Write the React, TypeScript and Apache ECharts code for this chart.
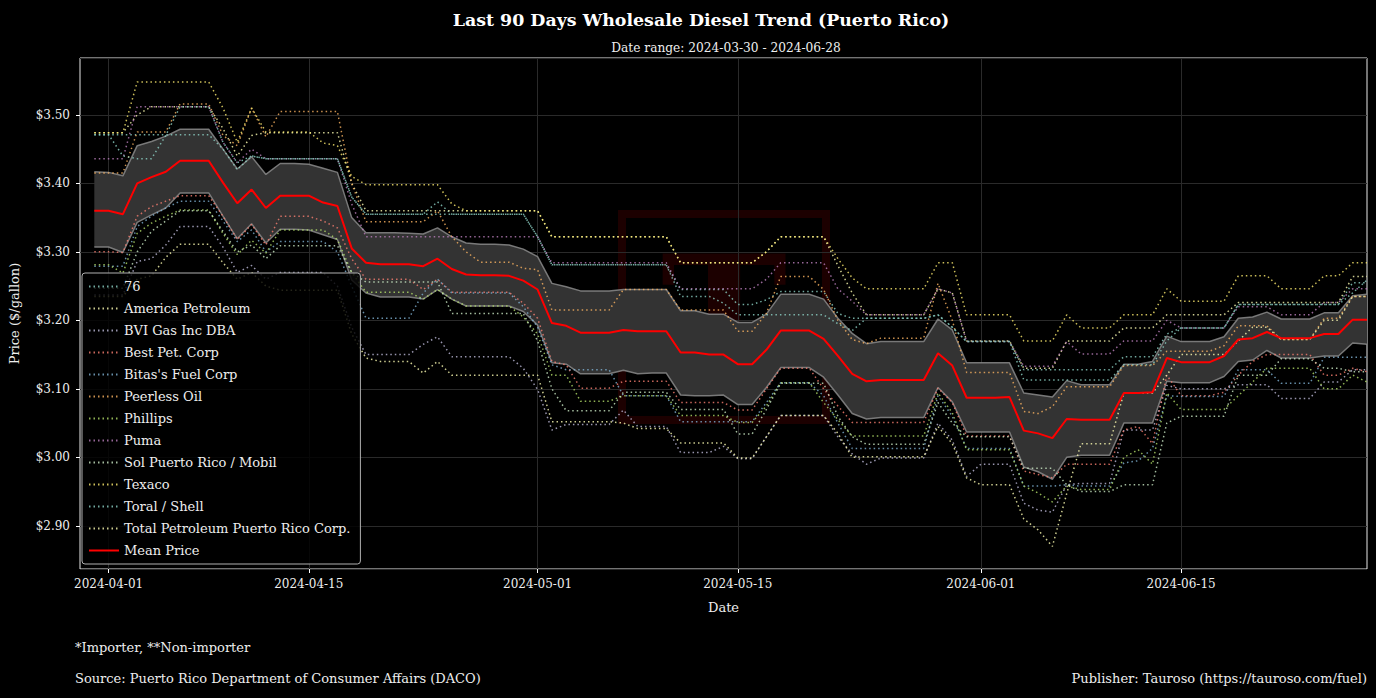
import React, { useEffect, useRef } from 'react';
import * as echarts from 'echarts';

const FONT = "'DejaVu Serif', serif";

// Axis runs from 2024-03-30 to 2024-06-28; data from 2024-03-31 (90 daily points)
const AXIS_START = '2024-03-30';
const AXIS_DAYS = 91;
const tickDates = ['2024-04-01', '2024-04-15', '2024-05-01', '2024-05-15', '2024-06-01', '2024-06-15'];

const names = [
  '76', 'America Petroleum', 'BVI Gas Inc DBA', 'Best Pet. Corp', "Bitas's Fuel Corp", 'Peerless Oil',
  'Phillips', 'Puma', 'Sol Puerto Rico / Mobil', 'Texaco', 'Toral / Shell', 'Total Petroleum Puerto Rico Corp.',
];
const colors = [
  '#8dd3c7', '#ffffb3', '#bebada', '#fb8072', '#80b1d3', '#fdb462',
  '#b3de69', '#bc80bd', '#ccebc5', '#ffed6f', '#8dd3c7', '#ffffb3',
];

const s76 = [3.471,3.471,3.471,3.471,3.471,3.471,3.471,3.471,3.471,3.45,3.42,3.44,3.436,3.436,3.436,3.436,3.436,3.436,3.38,3.355,3.355,3.355,3.355,3.355,3.373,3.355,3.355,3.355,3.355,3.355,3.355,3.322,3.281,3.281,3.281,3.281,3.281,3.281,3.281,3.281,3.281,3.245,3.245,3.245,3.245,3.223,3.223,3.23,3.242,3.242,3.242,3.242,3.21,3.203,3.203,3.203,3.203,3.203,3.203,3.208,3.19,3.169,3.169,3.169,3.169,3.128,3.128,3.128,3.128,3.128,3.128,3.128,3.147,3.147,3.147,3.18,3.189,3.189,3.189,3.189,3.223,3.223,3.223,3.223,3.223,3.223,3.223,3.223,3.24,3.259];
const sAmerica = [3.474,3.474,3.474,3.5,3.512,3.512,3.512,3.512,3.512,3.48,3.44,3.47,3.474,3.474,3.474,3.474,3.474,3.474,3.4,3.36,3.36,3.36,3.36,3.36,3.36,3.36,3.36,3.36,3.36,3.36,3.36,3.36,3.322,3.322,3.322,3.322,3.322,3.322,3.322,3.322,3.322,3.284,3.284,3.284,3.284,3.284,3.284,3.3,3.322,3.322,3.322,3.322,3.28,3.24,3.208,3.208,3.208,3.208,3.208,3.246,3.24,3.17,3.17,3.17,3.17,3.13,3.13,3.13,3.17,3.17,3.17,3.17,3.189,3.189,3.189,3.208,3.208,3.208,3.208,3.208,3.226,3.226,3.226,3.226,3.226,3.226,3.226,3.226,3.264,3.264];
const sBVI = [3.237,3.237,3.237,3.286,3.29,3.31,3.337,3.337,3.337,3.307,3.27,3.28,3.26,3.27,3.27,3.27,3.27,3.25,3.19,3.15,3.15,3.15,3.15,3.165,3.176,3.147,3.147,3.147,3.147,3.147,3.13,3.099,3.04,3.048,3.048,3.048,3.048,3.069,3.045,3.045,3.045,3.007,3.007,3.007,3.016,2.998,2.998,3.03,3.061,3.061,3.061,3.061,3.03,3.005,2.99,2.999,2.999,2.999,2.999,3.05,3.025,2.972,2.99,2.99,2.99,2.933,2.923,2.92,2.96,2.962,2.962,2.962,3.04,3.04,3.04,3.105,3.1,3.1,3.1,3.1,3.106,3.106,3.106,3.086,3.086,3.086,3.11,3.11,3.128,3.128];
const sBest = [3.3,3.3,3.299,3.352,3.366,3.374,3.382,3.382,3.382,3.352,3.318,3.34,3.31,3.352,3.352,3.352,3.345,3.335,3.29,3.26,3.26,3.26,3.26,3.245,3.26,3.241,3.241,3.241,3.241,3.241,3.225,3.203,3.14,3.135,3.101,3.101,3.101,3.111,3.111,3.111,3.111,3.08,3.08,3.08,3.08,3.069,3.069,3.1,3.13,3.13,3.13,3.1,3.075,3.051,3.051,3.051,3.051,3.051,3.051,3.101,3.08,3.031,3.031,3.031,3.031,2.98,2.975,2.97,2.99,2.99,2.99,2.99,3.04,3.045,3.02,3.12,3.09,3.09,3.09,3.095,3.12,3.14,3.15,3.15,3.15,3.15,3.12,3.12,3.13,3.125];
const sBitas = [3.279,3.279,3.279,3.337,3.352,3.364,3.374,3.374,3.374,3.345,3.315,3.332,3.3,3.315,3.315,3.315,3.315,3.3,3.25,3.203,3.203,3.203,3.203,3.24,3.26,3.24,3.24,3.24,3.24,3.24,3.22,3.19,3.135,3.128,3.128,3.128,3.128,3.09,3.09,3.09,3.09,3.052,3.052,3.052,3.052,3.052,3.052,3.08,3.109,3.109,3.109,3.09,3.05,3.013,3.013,3.013,3.013,3.013,3.013,3.09,3.06,3.013,3.013,3.013,3.013,2.958,2.958,2.958,2.96,2.958,2.958,2.958,2.992,2.995,3.013,3.09,3.089,3.089,3.089,3.089,3.128,3.128,3.128,3.108,3.108,3.108,3.146,3.146,3.146,3.146];
const sPeerless = [3.415,3.415,3.415,3.475,3.475,3.475,3.516,3.516,3.516,3.47,3.455,3.51,3.468,3.505,3.505,3.505,3.505,3.505,3.4,3.344,3.344,3.344,3.344,3.344,3.36,3.322,3.3,3.285,3.285,3.285,3.276,3.274,3.215,3.215,3.215,3.215,3.215,3.245,3.245,3.245,3.245,3.215,3.215,3.215,3.215,3.184,3.184,3.21,3.264,3.264,3.264,3.245,3.2,3.172,3.166,3.174,3.174,3.174,3.174,3.254,3.2,3.124,3.124,3.124,3.124,3.067,3.064,3.074,3.103,3.103,3.103,3.103,3.134,3.134,3.134,3.155,3.155,3.155,3.155,3.163,3.192,3.192,3.192,3.172,3.172,3.172,3.203,3.203,3.235,3.235];
const sPhillips = [3.281,3.281,3.269,3.327,3.342,3.352,3.361,3.361,3.361,3.327,3.296,3.317,3.298,3.332,3.332,3.332,3.332,3.318,3.27,3.241,3.241,3.241,3.241,3.231,3.245,3.231,3.221,3.221,3.221,3.221,3.205,3.18,3.12,3.12,3.082,3.082,3.082,3.09,3.09,3.09,3.09,3.061,3.061,3.061,3.061,3.051,3.051,3.075,3.109,3.109,3.109,3.08,3.055,3.031,3.031,3.031,3.031,3.031,3.031,3.094,3.065,3.011,3.011,3.011,3.011,2.958,2.948,2.935,2.958,2.953,2.953,2.953,3.0,3.011,2.99,3.094,3.07,3.07,3.07,3.07,3.09,3.11,3.13,3.13,3.13,3.13,3.1,3.1,3.12,3.11];
const sPuma = [3.436,3.436,3.436,3.512,3.512,3.512,3.512,3.512,3.512,3.46,3.43,3.45,3.436,3.436,3.436,3.436,3.436,3.436,3.37,3.322,3.322,3.322,3.322,3.322,3.322,3.322,3.322,3.322,3.322,3.322,3.322,3.322,3.284,3.284,3.284,3.284,3.284,3.284,3.284,3.284,3.284,3.246,3.246,3.246,3.246,3.246,3.246,3.26,3.284,3.284,3.284,3.284,3.246,3.228,3.208,3.208,3.208,3.208,3.208,3.246,3.24,3.169,3.169,3.169,3.169,3.133,3.133,3.133,3.169,3.151,3.151,3.151,3.17,3.17,3.17,3.2,3.189,3.189,3.189,3.189,3.22,3.22,3.22,3.208,3.208,3.208,3.226,3.226,3.246,3.246];
const sSol = [3.247,3.247,3.247,3.3,3.33,3.345,3.36,3.36,3.36,3.33,3.3,3.31,3.29,3.309,3.309,3.309,3.309,3.309,3.27,3.256,3.256,3.256,3.256,3.256,3.256,3.21,3.21,3.21,3.21,3.21,3.21,3.17,3.1,3.068,3.068,3.068,3.068,3.095,3.095,3.095,3.095,3.07,3.07,3.07,3.07,3.034,3.034,3.07,3.108,3.108,3.108,3.108,3.06,3.03,3.019,3.019,3.019,3.019,3.019,3.08,3.05,3.03,3.03,3.03,3.03,2.984,2.984,2.984,2.96,2.95,2.95,2.95,2.96,2.96,2.96,3.05,3.06,3.06,3.06,3.06,3.12,3.12,3.12,3.144,3.144,3.144,3.13,3.13,3.125,3.125];
const sTexaco = [3.474,3.474,3.474,3.548,3.548,3.548,3.548,3.548,3.548,3.51,3.46,3.51,3.475,3.475,3.475,3.475,3.459,3.455,3.41,3.398,3.398,3.398,3.398,3.398,3.398,3.37,3.36,3.36,3.36,3.36,3.36,3.36,3.322,3.322,3.322,3.322,3.322,3.322,3.322,3.322,3.322,3.284,3.284,3.284,3.284,3.284,3.284,3.3,3.322,3.322,3.322,3.322,3.29,3.262,3.246,3.246,3.246,3.246,3.246,3.284,3.284,3.208,3.208,3.208,3.208,3.17,3.17,3.17,3.208,3.189,3.189,3.189,3.208,3.208,3.208,3.246,3.228,3.228,3.228,3.228,3.265,3.265,3.265,3.246,3.246,3.246,3.265,3.265,3.284,3.284];
const sToral = [3.471,3.471,3.44,3.436,3.436,3.47,3.512,3.512,3.512,3.46,3.43,3.44,3.436,3.436,3.436,3.436,3.436,3.436,3.38,3.355,3.355,3.355,3.355,3.355,3.355,3.355,3.355,3.355,3.355,3.355,3.355,3.322,3.281,3.281,3.281,3.281,3.281,3.281,3.281,3.281,3.281,3.235,3.235,3.235,3.225,3.208,3.208,3.208,3.208,3.208,3.208,3.208,3.195,3.185,3.203,3.203,3.203,3.203,3.203,3.208,3.19,3.169,3.169,3.169,3.169,3.113,3.113,3.113,3.113,3.113,3.113,3.113,3.135,3.135,3.135,3.17,3.189,3.189,3.189,3.189,3.223,3.223,3.223,3.223,3.223,3.223,3.223,3.223,3.255,3.255];
const sTotal = [3.235,3.235,3.235,3.26,3.265,3.292,3.311,3.311,3.311,3.284,3.26,3.27,3.25,3.244,3.244,3.244,3.244,3.244,3.18,3.145,3.14,3.14,3.14,3.123,3.14,3.12,3.12,3.12,3.12,3.12,3.12,3.12,3.052,3.052,3.052,3.052,3.052,3.05,3.042,3.042,3.042,3.021,3.021,3.021,3.021,2.999,2.999,3.03,3.061,3.061,3.061,3.061,3.035,3.0,3.001,3.001,3.001,3.001,3.001,3.045,3.02,2.97,2.96,2.96,2.96,2.91,2.894,2.87,2.947,3.02,3.02,3.02,3.094,3.094,3.094,3.12,3.15,3.15,3.15,3.15,3.17,3.19,3.19,3.172,3.172,3.172,3.2,3.2,3.235,3.235];

const meanPrice = [3.36,3.36,3.355,3.4,3.409,3.417,3.433,3.433,3.433,3.401,3.371,3.391,3.364,3.382,3.382,3.382,3.372,3.367,3.305,3.284,3.282,3.282,3.282,3.279,3.29,3.275,3.267,3.266,3.266,3.265,3.258,3.245,3.196,3.192,3.182,3.182,3.182,3.186,3.184,3.184,3.184,3.153,3.153,3.15,3.15,3.136,3.136,3.157,3.185,3.185,3.185,3.173,3.148,3.122,3.111,3.113,3.113,3.113,3.113,3.152,3.134,3.087,3.087,3.087,3.088,3.039,3.035,3.028,3.056,3.055,3.055,3.055,3.094,3.094,3.095,3.145,3.139,3.139,3.139,3.148,3.172,3.174,3.183,3.174,3.174,3.174,3.18,3.18,3.201,3.201];
const bandUpper = [3.417,3.416,3.411,3.455,3.461,3.469,3.479,3.479,3.479,3.45,3.421,3.439,3.413,3.429,3.429,3.428,3.422,3.416,3.35,3.328,3.328,3.328,3.327,3.326,3.335,3.322,3.313,3.311,3.311,3.31,3.304,3.293,3.254,3.249,3.243,3.243,3.243,3.245,3.245,3.245,3.245,3.214,3.214,3.209,3.209,3.197,3.197,3.209,3.238,3.238,3.238,3.231,3.203,3.181,3.166,3.169,3.169,3.169,3.169,3.202,3.186,3.138,3.138,3.138,3.138,3.094,3.091,3.088,3.112,3.106,3.106,3.106,3.136,3.136,3.14,3.177,3.169,3.169,3.169,3.176,3.203,3.205,3.212,3.202,3.202,3.202,3.211,3.211,3.236,3.238];
const bandLower = [3.307,3.307,3.299,3.343,3.354,3.364,3.386,3.386,3.386,3.352,3.319,3.341,3.313,3.333,3.333,3.332,3.325,3.318,3.259,3.24,3.234,3.234,3.234,3.231,3.245,3.231,3.221,3.221,3.221,3.221,3.213,3.193,3.138,3.136,3.122,3.122,3.122,3.127,3.122,3.123,3.123,3.091,3.09,3.09,3.091,3.077,3.077,3.102,3.131,3.131,3.131,3.117,3.091,3.064,3.056,3.058,3.058,3.058,3.058,3.102,3.081,3.037,3.037,3.037,3.037,2.986,2.979,2.968,3.0,3.003,3.003,3.003,3.05,3.05,3.05,3.111,3.109,3.109,3.109,3.118,3.14,3.142,3.156,3.145,3.145,3.145,3.148,3.148,3.167,3.165];

const seriesValues = [s76, sAmerica, sBVI, sBest, sBitas, sPeerless, sPhillips, sPuma, sSol, sTexaco, sToral, sTotal];

function buildCategories(): string[] {
  const out: string[] = [];
  const d0 = new Date(AXIS_START + 'T00:00:00Z');
  for (let i = 0; i < AXIS_DAYS; i++) {
    const d = new Date(d0.getTime() + i * 86400000);
    out.push(d.toISOString().slice(0, 10));
  }
  return out;
}

export default function App() {
  const ref = useRef<HTMLDivElement>(null);
  useEffect(() => {
    if (!ref.current) return;
    const chart = echarts.init(ref.current, undefined, { renderer: 'svg' });
    const categories = buildCategories();
    const isTick = (_i: number, v: string) => tickDates.indexOf(v) >= 0;
    const pad = (arr: number[]) => [null, ...arr];

    const lines = names.map((name, k) => ({
      name,
      type: 'line',
      data: pad(seriesValues[k]),
      symbol: 'none',
      showSymbol: false,
      silent: true,
      z: 3,
      itemStyle: { color: colors[k] },
      lineStyle: { color: colors[k], width: 1.5, type: [1.5, 3], opacity: 0.8 },
    }));

    const option: any = {
      animation: false,
      backgroundColor: '#000',
      textStyle: { fontFamily: FONT },
      title: [
        {
          text: 'Last 90 Days Wholesale Diesel Trend (Puerto Rico)',
          left: 696, top: 6, textAlign: 'center',
          textStyle: { color: '#fff', fontSize: 17.4, fontWeight: 'bold', fontFamily: FONT },
        },
        {
          text: 'Date range: 2024-03-30 - 2024-06-28',
          left: 721, top: 37, textAlign: 'center',
          textStyle: { color: '#eee', fontSize: 12.2, fontWeight: 'normal', fontFamily: FONT },
        },
      ],
      grid: {
        left: 75, right: 9, top: 58, bottom: 129,
        show: true, borderColor: '#e8e8e8', borderWidth: 1, backgroundColor: '#000',
      },
      legend: {
        orient: 'vertical', left: 82, top: 273,
        itemWidth: 30, itemHeight: 14, itemGap: 9.0,
        padding: [7, 10, 7, 6],
        backgroundColor: 'rgba(0,0,0,0.82)', borderColor: '#b0b0b0', borderWidth: 1, borderRadius: 3,
        selectedMode: false,
        itemStyle: { opacity: 0 },
        textStyle: { color: '#eee', fontSize: 13, fontFamily: FONT },
        data: [...names, 'Mean Price'],
      },
      xAxis: {
        type: 'category', data: categories, boundaryGap: false,
        axisLine: { show: false },
        axisTick: { show: true, interval: isTick, length: 4, lineStyle: { color: '#fff' } },
        axisLabel: { interval: isTick, color: '#eee', fontSize: 12, margin: 9, fontFamily: FONT },
        splitLine: { show: true, interval: isTick, lineStyle: { color: '#2a2a2a', width: 1 } },
        name: 'Date', nameLocation: 'middle', nameGap: 32,
        nameTextStyle: { color: '#eee', fontSize: 13, fontFamily: FONT },
      },
      yAxis: {
        type: 'value', min: 2.837, max: 3.583, splitNumber: 7,
        axisLine: { show: false },
        axisTick: { show: true, length: 4, lineStyle: { color: '#fff' } },
        axisLabel: {
          color: '#eee', fontSize: 12, margin: 10, fontFamily: FONT,
          showMinLabel: false, showMaxLabel: false,
          formatter: (v: number) => (Math.abs(v * 10 - Math.round(v * 10)) > 1e-6 ? '' : '$' + v.toFixed(2)),
        },
        splitLine: { show: true, lineStyle: { color: '#2a2a2a', width: 1 } },
        name: 'Price ($/gallon)', nameLocation: 'middle', nameGap: 59,
        nameTextStyle: { color: '#eee', fontSize: 13, fontFamily: FONT },
      },
      graphic: [
        {
          type: 'group', left: 618, top: 210, z: 1, silent: true,
          children: [
            { type: 'rect', shape: { x: 0, y: 0, width: 204, height: 206 }, style: { fill: 'none', stroke: 'rgba(110,0,0,0.25)', lineWidth: 8 } },
            { type: 'text', x: 102, y: 104, style: { text: 'T', fill: 'rgba(110,0,0,0.25)', font: 'bold 170px ' + FONT, align: 'center', verticalAlign: 'middle' } },
          ],
        },
        { type: 'text', left: 75, top: 641, style: { text: '*Importer, **Non-importer', fill: '#eee', font: '13px ' + FONT } },
        { type: 'text', left: 75, top: 672, style: { text: 'Source: Puerto Rico Department of Consumer Affairs (DACO)', fill: '#eee', font: '13px ' + FONT } },
        { type: 'text', right: 9, top: 672, style: { text: 'Publisher: Tauroso (https://tauroso.com/fuel)', fill: '#eee', font: '13px ' + FONT } },
      ],
      series: [
        {
          name: 'band-lower', type: 'line', stack: 'band', data: pad(bandLower),
          symbol: 'none', silent: true, z: 1,
          lineStyle: { color: '#8a8a8a', width: 1.5, opacity: 0.85 },
        },
        {
          name: 'band-upper', type: 'line', stack: 'band', data: pad(bandUpper.map((u, i) => u - bandLower[i])),
          symbol: 'none', silent: true, z: 1,
          lineStyle: { color: '#8a8a8a', width: 1.5, opacity: 0.85 },
          areaStyle: { color: '#333333', opacity: 1 },
        },
        ...lines,
        {
          name: 'Mean Price', type: 'line', data: pad(meanPrice),
          symbol: 'none', silent: true, z: 5,
          itemStyle: { color: '#ff0000' },
          lineStyle: { color: '#ff0000', width: 2 },
        },
      ],
    };
    chart.setOption(option);
    return () => chart.dispose();
  }, []);
  return <div ref={ref} style={{ position: 'fixed', left: 0, top: 0, width: 1376, height: 698, background: '#000' }} />;
}
